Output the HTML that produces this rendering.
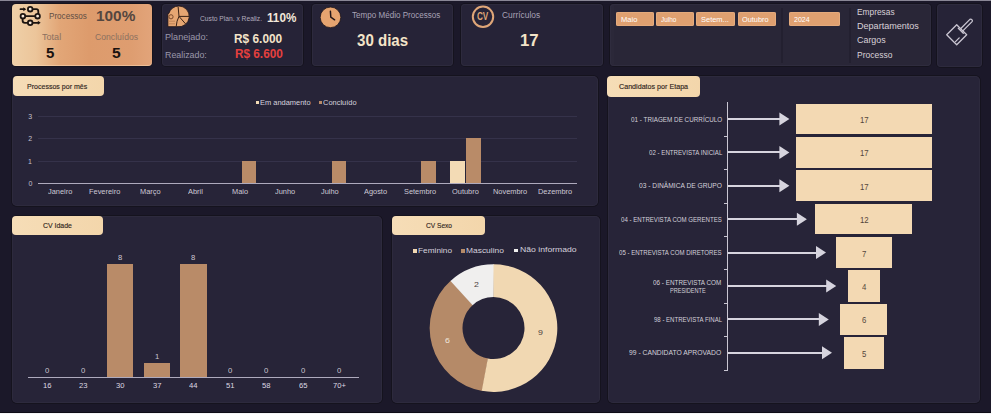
<!DOCTYPE html>
<html><head><meta charset="utf-8">
<style>
*{margin:0;padding:0;box-sizing:border-box}
html,body{width:991px;height:414px;overflow:hidden;background:#1b1829;font-family:"Liberation Sans",sans-serif}
.a{position:absolute}
.t{position:absolute;white-space:nowrap;line-height:1;transform-origin:0 0}
svg{position:absolute;left:0;top:0}
</style></head><body>
<div class="a" style="left:0.00px;top:0.00px;width:991.00px;height:1.00px;background:#8a8796;"></div>
<div class="a" style="left:0.00px;top:412.00px;width:991.00px;height:1.00px;background:#0e0c16;"></div>
<div class="a" style="left:0.00px;top:413.00px;width:991.00px;height:1.00px;background:#f4f4f6;"></div>
<div class="a" style="left:12.00px;top:4.00px;width:140.00px;height:61.50px;background:linear-gradient(90deg,#efd0a8 0%,#ecc59a 17%,#e2a677 34%,#dd9b6c 55%,#de9d70 85%,#e2a47a 100%);border-radius:4px;box-shadow:0 0 0 1px #15131e, inset 0 -1px 0 0 rgba(255,225,190,0.45)"></div>
<div class="a" style="left:162.00px;top:4.00px;width:141.00px;height:62.00px;background:#262337;border-radius:4px;box-shadow:0 0 0 1px #15131e, inset 0 0 0 1px #2d2a3d"></div>
<div class="a" style="left:312.00px;top:4.00px;width:141.00px;height:62.00px;background:#262337;border-radius:4px;box-shadow:0 0 0 1px #15131e, inset 0 0 0 1px #2d2a3d"></div>
<div class="a" style="left:461.00px;top:4.00px;width:142.00px;height:62.00px;background:#262337;border-radius:4px;box-shadow:0 0 0 1px #15131e, inset 0 0 0 1px #2d2a3d"></div>
<div class="a" style="left:609.50px;top:4.00px;width:321.50px;height:62.00px;background:#292637;border-radius:4px;box-shadow:0 0 0 1px #15131e, inset 0 0 0 1px #2f2c3e, inset 4px 0 0 0 #2b2839"></div>
<div class="a" style="left:781.00px;top:8.00px;width:1.50px;height:55.00px;background:#232030;"></div>
<div class="a" style="left:849.00px;top:8.00px;width:1.50px;height:55.00px;background:#232030;"></div>
<div class="a" style="left:937.00px;top:4.00px;width:44.50px;height:62.50px;background:#262337;border-radius:4px;box-shadow:0 0 0 1px #15131e, inset 0 0 0 1px #2d2a3d"></div>
<div class="a" style="left:616.00px;top:12.40px;width:38.30px;height:13.70px;background:#dfa070;border-radius:2px;box-shadow:inset 0 0 0 0.6px #eab488"></div>
<div class="a" style="left:656.40px;top:12.40px;width:37.80px;height:13.70px;background:#dfa070;border-radius:2px;box-shadow:inset 0 0 0 0.6px #eab488"></div>
<div class="a" style="left:696.30px;top:12.40px;width:38.90px;height:13.70px;background:#dfa070;border-radius:2px;box-shadow:inset 0 0 0 0.6px #eab488"></div>
<div class="a" style="left:737.60px;top:12.40px;width:38.30px;height:13.70px;background:#dfa070;border-radius:2px;box-shadow:inset 0 0 0 0.6px #eab488"></div>
<div class="a" style="left:789.20px;top:12.40px;width:50.60px;height:13.70px;background:#dfa070;border-radius:2px;box-shadow:inset 0 0 0 0.6px #eab488"></div>
<div class="a" style="left:12.00px;top:76.00px;width:586.00px;height:130.00px;background:#272438;border-radius:5px;box-shadow:0 0 0 1px #15131e, inset 0 0 0 1px #2d2a3d"></div>
<div class="a" style="left:12.00px;top:216.00px;width:369.50px;height:187.00px;background:#272438;border-radius:5px;box-shadow:0 0 0 1px #15131e, inset 0 0 0 1px #2d2a3d"></div>
<div class="a" style="left:392.00px;top:216.00px;width:207.50px;height:187.00px;background:#272438;border-radius:5px;box-shadow:0 0 0 1px #15131e, inset 0 0 0 1px #2d2a3d"></div>
<div class="a" style="left:607.50px;top:76.00px;width:372.50px;height:327.00px;background:#272438;border-radius:5px;box-shadow:0 0 0 1px #15131e, inset 0 0 0 1px #2d2a3d"></div>
<div class="a" style="left:12.50px;top:76.40px;width:91.50px;height:19.30px;background:linear-gradient(90deg,#f6ddb7,#f3d6ab);border-radius:4px"></div>
<div class="a" style="left:12.30px;top:216.00px;width:90.70px;height:19.00px;background:linear-gradient(90deg,#f6ddb7,#f3d6ab);border-radius:4px"></div>
<div class="a" style="left:392.00px;top:216.00px;width:93.30px;height:19.00px;background:linear-gradient(90deg,#f6ddb7,#f3d6ab);border-radius:4px"></div>
<div class="a" style="left:607.00px;top:76.00px;width:92.50px;height:20.70px;background:linear-gradient(90deg,#f6ddb7,#f3d6ab);border-radius:4px"></div>
<div class="a" style="left:38.30px;top:116.00px;width:539.20px;height:1.00px;background:#35324a;"></div>
<div class="a" style="left:38.30px;top:138.30px;width:539.20px;height:1.00px;background:#35324a;"></div>
<div class="a" style="left:38.30px;top:160.70px;width:539.20px;height:1.00px;background:#35324a;"></div>
<div class="a" style="left:241.50px;top:160.60px;width:14.70px;height:22.40px;background:#b98b68;"></div>
<div class="a" style="left:331.50px;top:160.60px;width:14.70px;height:22.40px;background:#b98b68;"></div>
<div class="a" style="left:421.00px;top:160.60px;width:15.10px;height:22.40px;background:#b98b68;"></div>
<div class="a" style="left:450.00px;top:160.60px;width:14.80px;height:22.40px;background:#f3dbb5;"></div>
<div class="a" style="left:466.20px;top:138.20px;width:15.10px;height:44.80px;background:#b98b68;"></div>
<div class="a" style="left:38.30px;top:182.50px;width:539.20px;height:1.10px;background:#aeaabd;"></div>
<div class="a" style="left:255.90px;top:100.90px;width:3.30px;height:3.30px;background:#f3dbb5;"></div>
<div class="a" style="left:319.10px;top:100.90px;width:3.10px;height:3.20px;background:#b98b68;"></div>
<div class="a" style="left:107.00px;top:263.94px;width:26.40px;height:113.36px;background:#b98b68;"></div>
<div class="a" style="left:143.60px;top:363.13px;width:26.40px;height:14.17px;background:#b98b68;"></div>
<div class="a" style="left:180.20px;top:263.94px;width:26.40px;height:113.36px;background:#b98b68;"></div>
<div class="a" style="left:28.00px;top:376.90px;width:331.00px;height:1.10px;background:#aeaabd;"></div>
<div class="a" style="left:413.00px;top:249.00px;width:3.60px;height:3.60px;background:#f1d8b2;"></div>
<div class="a" style="left:461.00px;top:249.00px;width:4.00px;height:3.60px;background:#b58a68;"></div>
<div class="a" style="left:514.20px;top:248.90px;width:4.10px;height:3.60px;background:#f0efee;"></div>
<div class="a" style="left:726.80px;top:101.50px;width:1.50px;height:269.00px;background:#c9c6d2;"></div>
<div class="a" style="left:795.50px;top:103.50px;width:136.50px;height:30.80px;background:#f3d9b3;"></div>
<div class="a" style="left:728.30px;top:117.90px;width:51.60px;height:2.20px;background:#d6d4de;"></div>
<div class="a" style="left:795.50px;top:136.80px;width:136.50px;height:30.90px;background:#f3d9b3;"></div>
<div class="a" style="left:728.30px;top:151.30px;width:51.60px;height:2.20px;background:#d6d4de;"></div>
<div class="a" style="left:724.00px;top:135.70px;width:3.00px;height:1.00px;background:#c9c6d2;"></div>
<div class="a" style="left:795.50px;top:170.10px;width:136.50px;height:30.90px;background:#f3d9b3;"></div>
<div class="a" style="left:728.30px;top:184.70px;width:51.60px;height:2.20px;background:#d6d4de;"></div>
<div class="a" style="left:724.00px;top:169.10px;width:3.00px;height:1.00px;background:#c9c6d2;"></div>
<div class="a" style="left:815.30px;top:203.50px;width:96.70px;height:30.90px;background:#f3d9b3;"></div>
<div class="a" style="left:728.30px;top:218.10px;width:69.10px;height:2.20px;background:#d6d4de;"></div>
<div class="a" style="left:724.00px;top:202.50px;width:3.00px;height:1.00px;background:#c9c6d2;"></div>
<div class="a" style="left:836.20px;top:237.00px;width:55.40px;height:31.00px;background:#f3d9b3;"></div>
<div class="a" style="left:728.30px;top:251.50px;width:88.20px;height:2.20px;background:#d6d4de;"></div>
<div class="a" style="left:724.00px;top:235.90px;width:3.00px;height:1.00px;background:#c9c6d2;"></div>
<div class="a" style="left:848.00px;top:270.30px;width:32.00px;height:31.30px;background:#f3d9b3;"></div>
<div class="a" style="left:728.30px;top:284.90px;width:98.40px;height:2.20px;background:#d6d4de;"></div>
<div class="a" style="left:724.00px;top:269.30px;width:3.00px;height:1.00px;background:#c9c6d2;"></div>
<div class="a" style="left:840.30px;top:303.80px;width:47.20px;height:30.90px;background:#f3d9b3;"></div>
<div class="a" style="left:728.30px;top:318.30px;width:91.00px;height:2.20px;background:#d6d4de;"></div>
<div class="a" style="left:724.00px;top:302.70px;width:3.00px;height:1.00px;background:#c9c6d2;"></div>
<div class="a" style="left:844.40px;top:337.40px;width:39.80px;height:32.00px;background:#f3d9b3;"></div>
<div class="a" style="left:728.30px;top:351.70px;width:94.20px;height:2.20px;background:#d6d4de;"></div>
<div class="a" style="left:724.00px;top:336.10px;width:3.00px;height:1.00px;background:#c9c6d2;"></div>
<div class="a" style="left:724.00px;top:369.60px;width:3.00px;height:1.00px;background:#c9c6d2;"></div>
<svg width="991" height="414" viewBox="0 0 991 414"><path d="M482.32,390.91 A63.8,63.8 0 0 1 450.93,280.58 L472.82,305.01 A31,31 0 0 0 488.07,358.62 Z" fill="#b58a68"/><path d="M450.52,280.95 A63.8,63.8 0 0 1 494.06,264.30 L493.77,297.10 A31,31 0 0 0 472.62,305.19 Z" fill="#f0efee"/><path d="M493.50,264.30 A63.8,63.8 0 1 1 481.78,390.81 L487.80,358.57 A31,31 0 1 0 493.50,297.10 Z" fill="#f1d8b2"/><path d="M779.4,112.5 L789.4,119.0 L779.4,125.5 Z" fill="#d6d4de"/><path d="M779.4,145.9 L789.4,152.4 L779.4,158.9 Z" fill="#d6d4de"/><path d="M779.4,179.3 L789.4,185.8 L779.4,192.3 Z" fill="#d6d4de"/><path d="M796.9,212.7 L806.9,219.2 L796.9,225.7 Z" fill="#d6d4de"/><path d="M816.0,246.1 L826.0,252.6 L816.0,259.1 Z" fill="#d6d4de"/><path d="M826.2,279.5 L836.2,286.0 L826.2,292.5 Z" fill="#d6d4de"/><path d="M818.8,312.9 L828.8,319.4 L818.8,325.9 Z" fill="#d6d4de"/><path d="M822.0,346.3 L832.0,352.8 L822.0,359.3 Z" fill="#d6d4de"/>
<g fill="none" stroke="#1c1410" stroke-width="1.8" stroke-linecap="round">
<path d="M20.5,9.2 H24.3"/><path d="M32.5,9.2 H36.3 Q38.3,9.2 38.3,11.2 V13.9"/><path d="M25.2,16.2 H35.1"/>
<path d="M22.6,18.5 V20.5 Q22.6,22.8 24.9,22.8 H27.9"/><path d="M32.5,22.8 H38.3"/>
<circle cx="30.2" cy="9.2" r="2.3" fill="#f6e6d8"/><circle cx="37.6" cy="16.2" r="2.3" fill="#f6e6d8"/>
<circle cx="22.9" cy="16.2" r="2.3" fill="#f6e6d8"/><circle cx="30.2" cy="22.8" r="2.3" fill="#f6e6d8"/>
</g>
<path d="M23.3,7.2 L26.2,9.2 L23.3,11.2 Z" fill="#1c1410"/><path d="M37.8,20.8 L40.7,22.8 L37.8,24.8 Z" fill="#1c1410"/>
<!-- pie icon -->
<path d="M168.8,13.5 A10.4,10.4 0 0 1 178.8,6 A10.4,10.4 0 1 1 177,26.64 L167.9,26.64 L167.9,13.5 Z" fill="#e6a672" stroke="#1c1216" stroke-width="0.8"/>
<path d="M178.1,6.6 L179,16.4 L189.1,16.4 M179,16.4 L185.6,23.9 M179,16.4 Q176.5,21 176.2,26.5" stroke="#3a2216" stroke-width="1" fill="none"/>
<circle cx="171" cy="16.8" r="2.1" fill="none" stroke="#7a4a2c" stroke-width="1"/>
<path d="M168.3,21.2 H175 M168.3,23.8 H175" stroke="#b77c52" stroke-width="0.8" fill="none"/>
<!-- clock -->
<circle cx="330.5" cy="17.35" r="10.3" fill="#e6a470" stroke="#20161c" stroke-width="0.8"/>
<path d="M330.4,11.3 L330.8,17.2 L334.6,19.8" stroke="#221618" stroke-width="1.5" fill="none" stroke-linecap="round"/>
<!-- CV -->
<circle cx="483" cy="16.8" r="10.2" fill="none" stroke="#dfa678" stroke-width="2"/>
<!-- brush -->
<g fill="none" stroke="#c9c5d1" stroke-width="1.3" stroke-linejoin="round" stroke-linecap="round">
<path d="M946.7,34.8 L956.7,24.8 L966.7,34.8 L956.7,44.8 Z"/>
<path d="M958.3,28.2 L963.3,33.2"/>
<path d="M960.6,28.7 L969.9,19.4 A1.6,1.6 0 0 1 972.1,21.6 L962.8,30.9"/>
<path d="M955.5,41.6 L959.2,37.9"/>
</g>
</svg>
<div class="t" style="left:48.66px;top:13.09px;font-size:8.2px;;transform:scaleX(0.990);color:#5e4d44;">Processos</div>
<div class="t" style="left:96.27px;top:7.78px;font-size:15.5px;font-weight:700;transform:scaleX(0.991);color:#54463f;">100%</div>
<div class="t" style="left:41.94px;top:34.38px;font-size:8.2px;;transform:scaleX(1.107);color:#8b7060;">Total</div>
<div class="t" style="left:94.65px;top:34.39px;font-size:8.2px;;transform:scaleX(1.053);color:#8b7060;">Concluídos</div>
<div class="t" style="left:45.63px;top:44.84px;font-size:15.5px;font-weight:700;transform:scaleX(0.970);color:#1a1210;">5</div>
<div class="t" style="left:111.75px;top:44.96px;font-size:15.5px;font-weight:700;transform:scaleX(1.010);color:#1a1210;">5</div>
<div class="t" style="left:199.66px;top:14.56px;font-size:7.0px;;transform:scaleX(0.955);color:#b3acbd;">Custo Plan. x Realiz.</div>
<div class="t" style="left:267.41px;top:12.40px;font-size:12.0px;font-weight:700;transform:scaleX(0.976);color:#f2e8da;">110%</div>
<div class="t" style="left:164.79px;top:33.10px;font-size:8.6px;;transform:scaleX(1.058);color:#9b97aa;">Planejado:</div>
<div class="t" style="left:234.12px;top:33.03px;font-size:12.5px;font-weight:700;transform:scaleX(0.950);color:#f4e4c9;">R$ 6.000</div>
<div class="t" style="left:165.01px;top:51.03px;font-size:8.6px;;transform:scaleX(1.030);color:#9b97aa;">Realizado:</div>
<div class="t" style="left:235.08px;top:47.65px;font-size:12.5px;font-weight:700;transform:scaleX(0.942);color:#e5403e;">R$ 6.600</div>
<div class="t" style="left:352.08px;top:10.62px;font-size:8.5px;;transform:scaleX(0.949);color:#a8a2b6;">Tempo Médio Processos</div>
<div class="t" style="left:356.96px;top:32.10px;font-size:16.5px;font-weight:700;transform:scaleX(0.913);color:#f3e3c8;">30 dias</div>
<div class="t" style="left:501.61px;top:10.69px;font-size:8.5px;;transform:scaleX(0.984);color:#a8a2b6;">Currículos</div>
<div class="t" style="left:519.70px;top:32.33px;font-size:16.5px;font-weight:700;transform:scaleX(1.017);color:#f3e3c8;">17</div>
<div class="t" style="left:620.72px;top:16.69px;font-size:6.5px;;transform:scaleX(1.162);color:#ffffff;">Maio</div>
<div class="t" style="left:661.16px;top:16.69px;font-size:6.5px;;transform:scaleX(0.992);color:#ffffff;">Julho</div>
<div class="t" style="left:700.89px;top:17.29px;font-size:6.5px;;transform:scaleX(1.148);color:#ffffff;">Setem...</div>
<div class="t" style="left:742.22px;top:16.69px;font-size:6.5px;;transform:scaleX(1.130);color:#ffffff;">Outubro</div>
<div class="t" style="left:794.47px;top:16.69px;font-size:6.5px;;transform:scaleX(1.088);color:#ffffff;">2024</div>
<div class="t" style="left:856.86px;top:9.12px;font-size:8.2px;;transform:scaleX(1.019);color:#d9d1d8;">Empresas</div>
<div class="t" style="left:856.76px;top:23.06px;font-size:8.2px;;transform:scaleX(1.105);color:#d9d1d8;">Departamentos</div>
<div class="t" style="left:857.09px;top:37.38px;font-size:8.2px;;transform:scaleX(1.087);color:#d9d1d8;">Cargos</div>
<div class="t" style="left:856.60px;top:52.08px;font-size:8.2px;;transform:scaleX(1.038);color:#d9d1d8;">Processo</div>
<div class="t" style="left:27.15px;top:82.69px;font-size:7.8px;;transform:scaleX(0.903);color:#30251c;-webkit-text-stroke:0.15px #30251c">Processos por mês</div>
<div class="t" style="left:42.59px;top:222.34px;font-size:7.8px;;transform:scaleX(0.891);color:#30251c;-webkit-text-stroke:0.15px #30251c">CV Idade</div>
<div class="t" style="left:425.72px;top:222.41px;font-size:7.8px;;transform:scaleX(0.846);color:#30251c;-webkit-text-stroke:0.15px #30251c">CV Sexo</div>
<div class="t" style="left:618.52px;top:82.55px;font-size:7.8px;;transform:scaleX(0.916);color:#30251c;-webkit-text-stroke:0.15px #30251c">Candidatos por Etapa</div>
<div class="t" style="left:260.08px;top:98.74px;font-size:7.5px;;transform:scaleX(0.994);color:#d6d2de;">Em andamento</div>
<div class="t" style="left:323.47px;top:98.74px;font-size:7.5px;;transform:scaleX(0.993);color:#d6d2de;">Concluído</div>
<div class="t" style="left:48.32px;top:188.10px;font-size:7.2px;;transform:scaleX(1.030);color:#cdc9d6;">Janeiro</div>
<div class="t" style="left:89.18px;top:187.85px;font-size:7.2px;;transform:scaleX(1.030);color:#cdc9d6;">Fevereiro</div>
<div class="t" style="left:140.10px;top:188.10px;font-size:7.2px;;transform:scaleX(1.030);color:#cdc9d6;">Março</div>
<div class="t" style="left:188.22px;top:187.85px;font-size:7.2px;;transform:scaleX(1.030);color:#cdc9d6;">Abril</div>
<div class="t" style="left:232.35px;top:188.10px;font-size:7.2px;;transform:scaleX(1.030);color:#cdc9d6;">Maio</div>
<div class="t" style="left:275.20px;top:188.10px;font-size:7.2px;;transform:scaleX(1.030);color:#cdc9d6;">Junho</div>
<div class="t" style="left:321.20px;top:188.10px;font-size:7.2px;;transform:scaleX(1.030);color:#cdc9d6;">Julho</div>
<div class="t" style="left:363.58px;top:188.10px;font-size:7.2px;;transform:scaleX(1.030);color:#cdc9d6;">Agosto</div>
<div class="t" style="left:404.10px;top:188.10px;font-size:7.2px;;transform:scaleX(1.030);color:#cdc9d6;">Setembro</div>
<div class="t" style="left:451.95px;top:188.10px;font-size:7.2px;;transform:scaleX(1.030);color:#cdc9d6;">Outubro</div>
<div class="t" style="left:493.17px;top:188.10px;font-size:7.2px;;transform:scaleX(1.030);color:#cdc9d6;">Novembro</div>
<div class="t" style="left:537.89px;top:188.10px;font-size:7.2px;;transform:scaleX(1.030);color:#cdc9d6;">Dezembro</div>
<div class="t" style="left:28.20px;top:112.86px;font-size:7.0px;;transform:scaleX(1.000);color:#c5c1ce;">3</div>
<div class="t" style="left:28.20px;top:135.36px;font-size:7.0px;;transform:scaleX(1.000);color:#c5c1ce;">2</div>
<div class="t" style="left:27.94px;top:157.88px;font-size:7.0px;;transform:scaleX(1.000);color:#c5c1ce;">1</div>
<div class="t" style="left:28.60px;top:179.64px;font-size:7.0px;;transform:scaleX(1.000);color:#c5c1ce;">0</div>
<div class="t" style="left:44.87px;top:367.07px;font-size:7.0px;;transform:scaleX(1.100);color:#cbc7d3;">0</div>
<div class="t" style="left:42.67px;top:382.23px;font-size:7.3px;;transform:scaleX(1.050);color:#dcd8e2;">16</div>
<div class="t" style="left:81.15px;top:367.07px;font-size:7.0px;;transform:scaleX(1.100);color:#cbc7d3;">0</div>
<div class="t" style="left:79.01px;top:382.23px;font-size:7.3px;;transform:scaleX(1.050);color:#dcd8e2;">23</div>
<div class="t" style="left:117.83px;top:254.16px;font-size:7.0px;;transform:scaleX(1.100);color:#cbc7d3;">8</div>
<div class="t" style="left:115.99px;top:382.28px;font-size:7.3px;;transform:scaleX(1.050);color:#dcd8e2;">30</div>
<div class="t" style="left:155.24px;top:352.86px;font-size:7.0px;;transform:scaleX(1.100);color:#cbc7d3;">1</div>
<div class="t" style="left:153.24px;top:382.28px;font-size:7.3px;;transform:scaleX(1.050);color:#dcd8e2;">37</div>
<div class="t" style="left:190.79px;top:253.58px;font-size:7.0px;;transform:scaleX(1.100);color:#cbc7d3;">8</div>
<div class="t" style="left:188.72px;top:382.23px;font-size:7.3px;;transform:scaleX(1.050);color:#dcd8e2;">44</div>
<div class="t" style="left:227.87px;top:367.07px;font-size:7.0px;;transform:scaleX(1.100);color:#cbc7d3;">0</div>
<div class="t" style="left:225.73px;top:382.23px;font-size:7.3px;;transform:scaleX(1.050);color:#dcd8e2;">51</div>
<div class="t" style="left:264.15px;top:367.07px;font-size:7.0px;;transform:scaleX(1.100);color:#cbc7d3;">0</div>
<div class="t" style="left:262.01px;top:382.23px;font-size:7.3px;;transform:scaleX(1.050);color:#dcd8e2;">58</div>
<div class="t" style="left:301.13px;top:367.22px;font-size:7.0px;;transform:scaleX(1.100);color:#cbc7d3;">0</div>
<div class="t" style="left:298.99px;top:382.28px;font-size:7.3px;;transform:scaleX(1.050);color:#dcd8e2;">65</div>
<div class="t" style="left:336.81px;top:367.22px;font-size:7.0px;;transform:scaleX(1.100);color:#cbc7d3;">0</div>
<div class="t" style="left:333.14px;top:382.23px;font-size:7.3px;;transform:scaleX(1.050);color:#dcd8e2;">70+</div>
<div class="t" style="left:417.73px;top:247.00px;font-size:7.9px;;transform:scaleX(1.048);color:#d6d2de;">Feminino</div>
<div class="t" style="left:466.44px;top:247.00px;font-size:7.9px;;transform:scaleX(1.066);color:#d6d2de;">Masculino</div>
<div class="t" style="left:519.54px;top:245.99px;font-size:7.9px;;transform:scaleX(1.095);color:#d6d2de;">Não informado</div>
<div class="t" style="left:537.81px;top:329.14px;font-size:8.0px;;transform:scaleX(1.100);color:#4d423c;">9</div>
<div class="t" style="left:444.81px;top:337.28px;font-size:8.0px;;transform:scaleX(1.100);color:#efe6dc;">6</div>
<div class="t" style="left:473.73px;top:280.92px;font-size:8.0px;;transform:scaleX(1.100);color:#4d423c;">2</div>
<div class="t" style="left:631.14px;top:116.99px;font-size:6.8px;;transform:scaleX(0.930);color:#d3d0da;">01 - TRIAGEM DE CURRÍCULO</div>
<div class="t" style="left:860.15px;top:116.51px;font-size:8.2px;;transform:scaleX(0.950);color:#54473c;">17</div>
<div class="t" style="left:648.61px;top:150.21px;font-size:6.8px;;transform:scaleX(0.904);color:#d3d0da;">02 - ENTREVISTA INICIAL</div>
<div class="t" style="left:860.15px;top:150.29px;font-size:8.2px;;transform:scaleX(0.950);color:#54473c;">17</div>
<div class="t" style="left:639.04px;top:183.13px;font-size:6.8px;;transform:scaleX(0.980);color:#d3d0da;">03 - DINÂMICA DE GRUPO</div>
<div class="t" style="left:860.15px;top:183.53px;font-size:8.2px;;transform:scaleX(0.950);color:#54473c;">17</div>
<div class="t" style="left:621.06px;top:216.85px;font-size:6.8px;;transform:scaleX(0.897);color:#d3d0da;">04 - ENTREVISTA COM GERENTES</div>
<div class="t" style="left:859.62px;top:216.82px;font-size:8.2px;;transform:scaleX(0.950);color:#54473c;">12</div>
<div class="t" style="left:619.28px;top:249.67px;font-size:6.8px;;transform:scaleX(0.895);color:#d3d0da;">05 - ENTREVISTA COM DIRETORES</div>
<div class="t" style="left:862.38px;top:250.76px;font-size:8.2px;;transform:scaleX(0.950);color:#54473c;">7</div>
<div class="t" style="left:652.75px;top:279.60px;font-size:6.8px;;transform:scaleX(0.934);color:#d3d0da;">06 - ENTREVISTA COM</div>
<div class="t" style="left:669.70px;top:287.91px;font-size:6.8px;;transform:scaleX(0.823);color:#d3d0da;">PRESIDENTE</div>
<div class="t" style="left:862.30px;top:283.82px;font-size:8.2px;;transform:scaleX(0.950);color:#54473c;">4</div>
<div class="t" style="left:653.73px;top:317.21px;font-size:6.8px;;transform:scaleX(0.889);color:#d3d0da;">98 - ENTREVISTA FINAL</div>
<div class="t" style="left:861.72px;top:316.96px;font-size:8.2px;;transform:scaleX(0.950);color:#54473c;">6</div>
<div class="t" style="left:629.23px;top:350.13px;font-size:6.8px;;transform:scaleX(0.996);color:#d3d0da;">99 - CANDIDATO APROVADO</div>
<div class="t" style="left:862.34px;top:351.26px;font-size:8.2px;;transform:scaleX(0.950);color:#54473c;">5</div>
<div class="t" style="left:476.5px;top:11.2px;font-size:10.5px;font-weight:700;color:#dfa678;transform:scaleX(0.78);letter-spacing:-0.3px">CV</div>
</body></html>
